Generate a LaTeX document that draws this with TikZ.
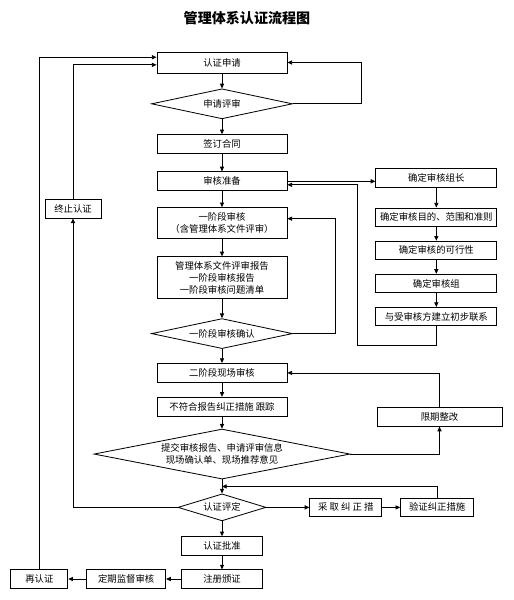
\documentclass[tikz,border=0pt]{standalone}
\usepackage{fontspec}
\setmainfont{Noto Sans CJK SC}
\usetikzlibrary{arrows.meta,shapes.geometric,positioning,calc}

\begin{document}
\begin{tikzpicture}[
    node distance=0.42cm,
    line width=0.7pt,
    box/.style={rectangle, draw, minimum width=3.9cm, minimum height=0.57cm, inner sep=1pt, font=\fontsize{8}{10}\selectfont, align=center},
    sidebox/.style={box, minimum width=3.63cm, minimum height=0.55cm},
    smallbox/.style={box, minimum width=2.43cm, minimum height=0.55cm},
    decision/.style={diamond, draw, aspect=4.7, inner sep=0pt, minimum width=4.23cm, minimum height=0.9cm, font=\fontsize{8}{10}\selectfont, align=center},
    arrow/.style={-{Triangle[length=4pt,width=3.5pt]}}
]
    \useasboundingbox (0,0) rectangle (15.42,-18);

    \node[font=\fontsize{12}{14}\selectfont\bfseries] (title) at (7.41,-0.54) {管理体系认证流程图};

    % main column
    \node[box, minimum height=0.63cm] (apply) at (6.66,-1.875) {认证申请};
    \node[decision, below=0.45cm of apply] (review) {申请评审};
    \node[box, below=0.45cm of review] (contract) {签订合同};
    \node[box, below=0.52cm of contract] (prep) {审核准备};
    \node[box, below=0.48cm of prep, minimum height=0.93cm] (stage1) {一阶段审核\\（含管理体系文件评审）};
    \node[box, below=0.52cm of stage1, minimum height=1.26cm] (reports) {管理体系文件评审报告\\一阶段审核报告\\一阶段审核问题清单};
    \node[decision, below=0.57cm of reports] (confirm) {一阶段审核确认};
    \node[box, below=of confirm] (stage2) {二阶段现场审核};
    \node[box, below=of stage2] (track) {不符合报告纠正措施\ 跟踪};
    \node[decision, below=0.36cm of track, aspect=5.1, minimum width=7.68cm, minimum height=1.5cm] (submit) {提交审核报告、申请评审信息\\现场确认单、现场推荐意见};
    \node[decision, below=of submit, aspect=3.3, minimum width=2.64cm, minimum height=0.81cm] (evaluate) {认证评定};
    \node[smallbox, below=0.45cm of evaluate] (approve) {认证批准};
    \node[smallbox, below=of approve] (register) {注册颁证};
    \node[smallbox, left=0.45cm of register, minimum width=2.37cm] (surveil) {定期监督审核};
    \node[smallbox, left=0.54cm of surveil, minimum width=1.71cm] (recert) {再认证};

    % audit preparation
    \node[sidebox, right=2.64cm of prep, yshift=0.1cm] (leader) {确定审核组长};
    \node[sidebox, below=0.6cm of leader] (scope) {确定审核目的、范围和准则};
    \node[sidebox, below=of scope] (feasible) {确定审核的可行性};
    \node[sidebox, below=of feasible] (team) {确定审核组};
    \node[sidebox, below=of team] (contact) {与受审核方建立初步联系};

    \node[box, minimum width=3.75cm, minimum height=0.55cm] (rectify) at (13.185,-12.51) {限期整改};
    \node[box, right=1.29cm of evaluate, minimum width=2.16cm, minimum height=0.55cm] (corrective) {采 取 纠 正 措};
    \node[box, right=0.54cm of corrective, minimum width=2.19cm, minimum height=0.55cm] (verify) {验证纠正措施};
    \node[box, minimum width=1.68cm, minimum height=0.57cm] (terminate) at (2.19,-6.255) {终止认证};

    \coordinate (merge) at ($(submit.south)!0.5!(evaluate.north)$);

    \draw[arrow] (apply) -- (review);
    \draw[arrow] (review) -- (contract);
    \draw[arrow] (contract) -- (prep);
    \draw[arrow] (prep) -- (stage1);
    \draw[arrow] (stage1) -- (reports);
    \draw[arrow] (reports) -- (confirm);
    \draw[arrow] (confirm) -- (stage2);
    \draw[arrow] (stage2) -- (track);
    \draw[arrow] (track) -- (submit);
    \draw[arrow] (submit) -- (evaluate);
    \draw[arrow] (evaluate) -- (approve);
    \draw[arrow] (approve) -- (register);
    \draw[arrow] (register) -- (surveil);
    \draw[arrow] (surveil) -- (recert);
    \draw[arrow] (evaluate) -- (corrective);
    \draw[arrow] (corrective) -- (verify);

    \draw[arrow] (prep.east) -- (prep.east -| leader.west);
    \draw[arrow] (leader) -- (scope);
    \draw[arrow] (scope) -- (feasible);
    \draw[arrow] (feasible) -- (team);
    \draw[arrow] (team) -- (contact);

    % loops back
    \draw[arrow] (review.east) -- ++(2.04,0) |- (apply.east);
    \draw[arrow] (confirm.east) -- ++(1.26,0) |- ([yshift=3.8pt]stage1.east);
    \draw[arrow] (contact.south) -- ++(0,-0.57) -| ([xshift=2.1cm,yshift=-3pt]prep.east) -- ([yshift=-3pt]prep.east);
    \draw[arrow] (submit.east) -| (rectify.south);
    \draw[arrow] (rectify.north) |- (stage2.east);
    \draw[arrow] (verify.north) |- (merge);
    \draw[arrow] (evaluate.west) -| (terminate.south);
    \draw[arrow] (terminate.north) |- ([yshift=-2pt]apply.west);
    \draw[arrow] (recert.north) |- ([yshift=4.5pt]apply.west);
\end{tikzpicture}
\end{document}
